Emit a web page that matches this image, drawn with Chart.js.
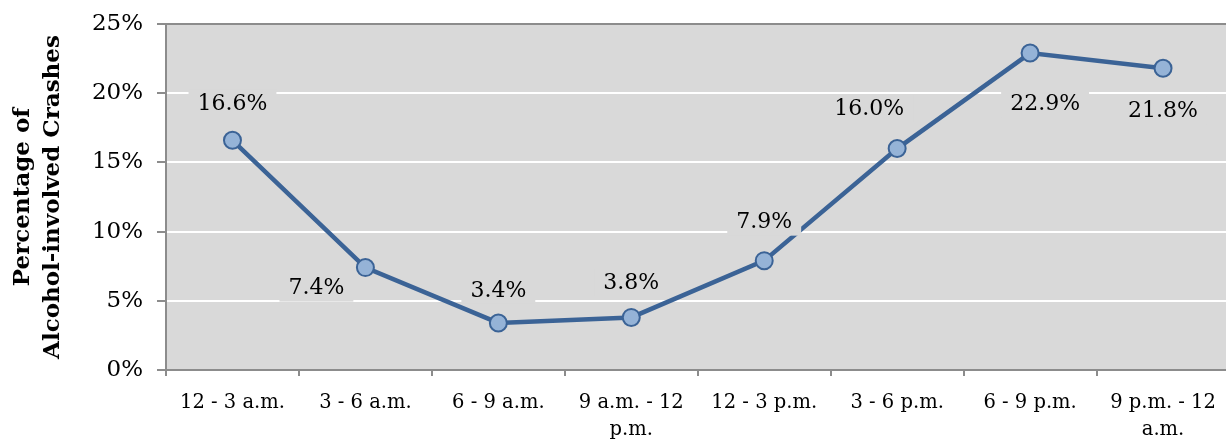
<!DOCTYPE html>
<html>
<head>
<meta charset="utf-8">
<script src="https://cdn.jsdelivr.net/npm/chart.js@4.4.0/dist/chart.umd.min.js"></script>
<style>
html,body{margin:0;padding:0;overflow:hidden;background:#fff;}
#c{display:block;}
</style>
</head>
<body>
<canvas id="c" width="1240" height="443"></canvas>
<script>
const categories = [["12 - 3 a.m."],["3 - 6 a.m."],["6 - 9 a.m."],["9 a.m. - 12","p.m."],["12 - 3 p.m."],["3 - 6 p.m."],["6 - 9 p.m."],["9 p.m. - 12","a.m."]];
const crashPct = [16.6, 7.4, 3.4, 3.8, 7.9, 16.0, 22.9, 21.8];
const yTicks = [0, 5, 10, 15, 20, 25];

const SERIF = "'DejaVu Serif', 'Liberation Serif', serif";
// label offsets (dx, dy) relative to point
const labelOffsets = [[0,-37],[-49,20],[0,-33],[0,-35],[0,-39],[-28,-40],[15,50],[0,42]];

const plotBg = {
  id:'plotBg',
  beforeDraw(chart){
    const {ctx, chartArea:a} = chart;
    ctx.save();
    ctx.fillStyle = '#d9d9d9';
    ctx.fillRect(a.left, a.top, a.right-a.left, a.bottom-a.top);
    ctx.restore();
  },
  afterDatasetsDraw(chart){
    const {ctx, chartArea:a} = chart;
    ctx.save();
    ctx.strokeStyle = '#8c8c8c';
    ctx.lineWidth = 2;
    ctx.beginPath();
    ctx.moveTo(a.left-9, a.top); ctx.lineTo(a.right, a.top);
    ctx.stroke();
    const meta = chart.getDatasetMeta(0);
    ctx.font = "22px " + SERIF;
    ctx.textAlign = 'center';
    ctx.textBaseline = 'middle';
    meta.data.forEach((pt, i) => {
      const txt = crashPct[i].toFixed(1) + '%';
      const [dx, dy] = labelOffsets[i];
      const x = pt.x + dx, y = pt.y + dy;
      const w = ctx.measureText(txt).width + 18;
      ctx.fillStyle = '#d9d9d9';
      ctx.fillRect(x - w/2, y - 14, w, 28);
      ctx.fillStyle = '#000';
      ctx.fillText(txt, x, y+1);
    });
    ctx.restore();
  }
};

new Chart(document.getElementById('c'), {
  type: 'line',
  data: {
    labels: categories,
    datasets: [{
      data: crashPct,
      borderColor: '#3b6396',
      borderWidth: 4.5,
      pointBackgroundColor: '#95b3d7',
      pointBorderColor: '#3b6396',
      pointBorderWidth: 2,
      pointRadius: 8.5,
      tension: 0,
      clip: false
    }]
  },
  options: {
    responsive: false,
    animation: false,
    layout: { padding: { top: 24, right: 0, left: 0, bottom: 0 } },
    plugins: { legend: { display: false }, tooltip: { enabled: false } },
    scales: {
      x: {
        type: 'category',
        offset: true,
        grid: { offset: true, drawOnChartArea: false, color: '#8c8c8c', tickLength: 6, lineWidth: 2 },
        border: { color: '#8c8c8c', width: 2 },
        ticks: { color: '#000', font: { family: SERIF, size: 19.5, lineHeight: 1.35 }, padding: 14, maxRotation: 0, autoSkip: false },
        afterFit(s){ s.height = 73; s.paddingLeft = 0; s.paddingRight = 0; }
      },
      y: {
        min: 0, max: 25,
        afterBuildTicks(s){ s.ticks = yTicks.map(v => ({value: v})); },
        grid: { color: '#ffffff', lineWidth: 2, tickColor: '#8c8c8c', tickLength: 9 },
        border: { color: '#8c8c8c', width: 2 },
        ticks: { color: '#000', font: { family: SERIF, size: 23 }, padding: 14, callback: v => v + '%' },
        title: { display: true, text: ['Percentage of', 'Alcohol-involved Crashes'], color: '#000',
                 font: { family: SERIF, size: 23, weight: 'bold', lineHeight: 1.3 }, padding: { top: 8, bottom: 0 } },
        afterFit(s){ s.width = 166; s.paddingTop = 0; s.paddingBottom = 0; }
      }
    }
  },
  plugins: [plotBg]
});
</script>
</body>
</html>
